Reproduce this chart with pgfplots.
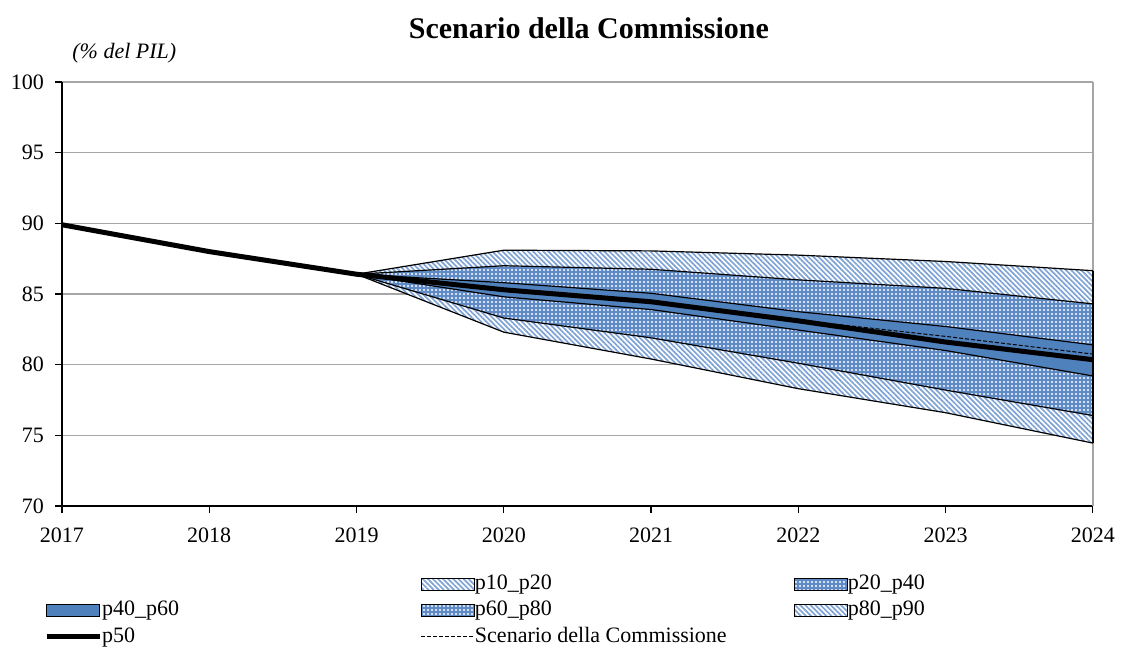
\documentclass[border=0pt]{standalone}
\usepackage{fontspec}
\setmainfont{Liberation Serif}
\usepackage{pgfplots}
\usepackage{pgfplotstable}
\pgfplotsset{compat=1.18}
\usepgfplotslibrary{fillbetween}
\usetikzlibrary{patterns.meta}

\definecolor{bandblue}{HTML}{4F81BD}
\definecolor{hatchblue}{HTML}{5E8AC6}
\definecolor{stripeblue}{HTML}{7FA3D4}
\definecolor{gridgray}{HTML}{A6A6A6}

% fan chart percentiles (% of GDP)
\pgfplotstableread{
year p10   p20   p40   p60   p80   p90
2019 86.4  86.4  86.4  86.4  86.4  86.4
2020 82.3  83.3  84.8  85.8  87.0  88.1
2021 80.4  81.9  83.9  85.05 86.75 88.05
2022 78.3  80.1  82.45 83.75 86.0  87.75
2023 76.6  78.2  81.0  82.7  85.4  87.3
2024 74.45 76.4  79.2  81.4  84.3  86.65
}\fan

\pgfplotstableread{
year p50
2017 89.9
2018 88.0
2019 86.4
2020 85.3
2021 84.45
2022 83.1
2023 81.6
2024 80.35
}\median

\pgfplotstableread{
year comm
2019 86.4
2020 85.3
2021 84.4
2022 83.15
2023 82.0
2024 80.75
}\comm

\tikzset{
  stripefill/.style={pattern={Lines[angle=-45,distance=1.8pt,line width=0.85pt]}, pattern color=stripeblue},
  dotfill/.style={pattern={Dots[distance=2pt,radius=0.62pt]}, pattern color=white},
}

\begin{document}
\begin{tikzpicture}
\begin{axis}[
    width=515.5pt, height=212pt, scale only axis,
    clip=false,
    xmin=2017, xmax=2024, ymin=70, ymax=100,
    xtick={2017,...,2024}, ytick={70,75,...,100},
    axis lines*=left,
    axis line style={black, line width=0.7pt},
    ymajorgrids, grid style={gridgray, line width=0.7pt},
    tick align=outside, major tick length=3.5pt,
    tick style={black, line width=0.6pt},
    /pgf/number format/assume math mode=true,
    xticklabel style={/pgf/number format/1000 sep={}, yshift=-4pt},
    yticklabel style={xshift=-2pt},
    tick label style={font=\fontsize{11}{13}\selectfont},
    legend columns=3,
    legend cell align=left,
    legend style={at={(-0.01746,-0.1615)}, anchor=north west, draw=none, fill=none,
        inner sep=0pt, outer sep=0pt, row sep=3.2pt,
        /tikz/column sep=0pt,
        /tikz/every even column/.append style={column sep=2.5pt},
        nodes={inner sep=0pt, text height=7.5pt, text depth=2.5pt},
        font=\fontsize{11}{13}\selectfont},
]
% boundary paths
\addplot[draw=none, name path=p10, forget plot] table[x=year, y=p10] {\fan};
\addplot[draw=none, name path=p20, forget plot] table[x=year, y=p20] {\fan};
\addplot[draw=none, name path=p40, forget plot] table[x=year, y=p40] {\fan};
\addplot[draw=none, name path=p60, forget plot] table[x=year, y=p60] {\fan};
\addplot[draw=none, name path=p80, forget plot] table[x=year, y=p80] {\fan};
\addplot[draw=none, name path=p90, forget plot] table[x=year, y=p90] {\fan};

% bands
\addplot[fill=white, forget plot] fill between[of=p10 and p20];
\addplot[stripefill, forget plot] fill between[of=p10 and p20];
\addplot[fill=hatchblue, forget plot] fill between[of=p20 and p40];
\addplot[dotfill, forget plot] fill between[of=p20 and p40];
\addplot[fill=bandblue, forget plot] fill between[of=p40 and p60];
\addplot[fill=hatchblue, forget plot] fill between[of=p60 and p80];
\addplot[dotfill, forget plot] fill between[of=p60 and p80];
\addplot[fill=white, forget plot] fill between[of=p80 and p90];
\addplot[stripefill, forget plot] fill between[of=p80 and p90];

\draw[gridgray, line width=0.7pt] (rel axis cs:1,0) -- (rel axis cs:1,1);

% band outlines
\addplot[black, line width=0.6pt, forget plot] table[x=year, y=p10] {\fan};
\addplot[black, line width=0.6pt, forget plot] table[x=year, y=p20] {\fan};
\addplot[black, line width=0.6pt, forget plot] table[x=year, y=p40] {\fan};
\addplot[black, line width=0.6pt, forget plot] table[x=year, y=p60] {\fan};
\addplot[black, line width=0.6pt, forget plot] table[x=year, y=p80] {\fan};
\addplot[black, line width=0.6pt, forget plot] table[x=year, y=p90] {\fan};
\addplot[black, line width=0.6pt, forget plot] coordinates {(2024,74.45) (2024,86.65)};

\addplot[black, line width=0.5pt, dash pattern=on 2pt off 1pt, forget plot] table[x=year, y=comm] {\comm};
\addplot[black, line width=2.5pt, forget plot] table[x=year, y=p50] {\median};

% legend
\addlegendimage{legend image code/.code={\path[draw=none,fill=none] (0pt,-2.8pt) rectangle (26.5pt,3.2pt);}}
\addlegendentry{\makebox[157pt][l]{}}
\addlegendimage{legend image code/.code={\draw[black,line width=0.5pt,fill=white,postaction={pattern={Lines[angle=-45,distance=1.8pt,line width=0.85pt]},pattern color=stripeblue}] (0pt,-2.8pt) rectangle (26.5pt,3.2pt);}}
\addlegendentry{\makebox[157pt][l]{p10\_p20}}
\addlegendimage{legend image code/.code={\draw[black,line width=0.5pt,fill=hatchblue,postaction={pattern={Dots[distance=2pt,radius=0.62pt]},pattern color=white}] (0pt,-2.8pt) rectangle (26.5pt,3.2pt);}}
\addlegendentry{p20\_p40}
\addlegendimage{legend image code/.code={\draw[black,line width=0.5pt,fill=bandblue] (0pt,-2.8pt) rectangle (26.5pt,3.2pt);}}
\addlegendentry{\makebox[157pt][l]{p40\_p60}}
\addlegendimage{legend image code/.code={\draw[black,line width=0.5pt,fill=hatchblue,postaction={pattern={Dots[distance=2pt,radius=0.62pt]},pattern color=white}] (0pt,-2.8pt) rectangle (26.5pt,3.2pt);}}
\addlegendentry{\makebox[157pt][l]{p60\_p80}}
\addlegendimage{legend image code/.code={\draw[black,line width=0.5pt,fill=white,postaction={pattern={Lines[angle=-45,distance=1.8pt,line width=0.85pt]},pattern color=stripeblue}] (0pt,-2.8pt) rectangle (26.5pt,3.2pt);}}
\addlegendentry{p80\_p90}
\addlegendimage{legend image code/.code={\draw[black,line width=2.5pt] (0pt,0.2pt) -- (26.5pt,0.2pt);}}
\addlegendentry{\makebox[157pt][l]{p50}}
\addlegendimage{legend image code/.code={\draw[black,line width=0.5pt,dash pattern=on 2pt off 1pt] (0pt,0.2pt) -- (26.5pt,0.2pt);}}
\addlegendentry{\makebox[157pt][l]{Scenario della Commissione}}

\node[font=\fontsize{15}{17}\selectfont\bfseries] at (rel axis cs:0.511,1.127) {Scenario della Commissione};
\node[anchor=west, inner sep=0pt, font=\fontsize{11}{13}\selectfont\itshape] at (rel axis cs:0.0097,1.069) {(\% del PIL)};
\end{axis}
\pgfresetboundingbox
\path (-31pt,-72pt) rectangle (529.5pt,253pt);
\end{tikzpicture}
\end{document}
